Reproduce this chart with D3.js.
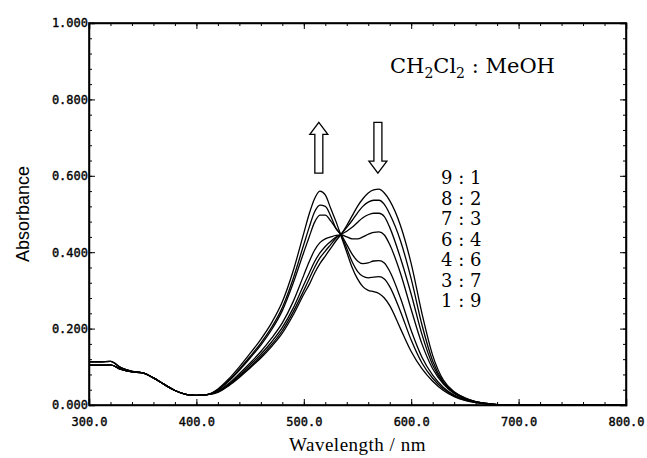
<!DOCTYPE html>
<html>
<head>
<meta charset="utf-8">
<script src="https://cdn.jsdelivr.net/npm/d3@7"></script>
<style>
  body { margin: 0; background: #fff; }
  .axis text { font-family: "DejaVu Sans Mono", monospace; font-size: 12px; fill: #000; stroke: #000; stroke-width: 0.35px; }
  .axis path, .axis line { stroke: #000; }
</style>
</head>
<body>
<svg class="chart"></svg>
<script>
// wavelengths (nm) shared by all spectra
var wavelengths = [300,310,320,330,340,350,360,370,380,390,400,410,
    420,430,440,450,460,470,480,490,500,
    505,510,515,520,525,530,535,540,545,550,555,560,565,570,575,580,
    590,600,610,620,630,640,650,660,670,680,690,700,750,800];

var ratios = ["9 : 1", "8 : 2", "7 : 3", "6 : 4", "4 : 6", "3 : 7", "1 : 9"];

var abs91 = [.104,.104,.105,.093,.087,.084,.071,.054,.038,.028,.025,.027,
    .033,.05,.072,.097,.123,.153,.188,.235,.29,
    .315,.345,.37,.39,.41,.43,.448,.47,.495,.52,.54,.555,.563,.565,.555,.535,
    .47,.37,.24,.13,.065,.035,.019,.009,.004,.001,0,0,0,0];
var abs82 = [.104,.104,.105,.093,.087,.084,.071,.054,.038,.028,.025,.027,
    .034,.052,.075,.10,.127,.158,.195,.243,.30,
    .33,.36,.385,.403,.42,.437,.448,.465,.483,.503,.52,.531,.536,.536,.525,.50,
    .43,.33,.21,.115,.06,.033,.018,.009,.004,.001,0,0,0,0];
var abs73 = [.104,.104,.105,.093,.087,.084,.071,.054,.038,.028,.025,.027,
    .035,.054,.078,.105,.133,.165,.203,.253,.315,
    .345,.375,.398,.415,.428,.44,.447,.455,.465,.478,.49,.498,.502,.502,.493,.465,
    .385,.29,.185,.105,.058,.032,.017,.008,.004,.001,0,0,0,0];
var abs64 = [.104,.104,.105,.093,.087,.084,.071,.054,.038,.028,.025,.027,
    .036,.056,.082,.11,.14,.175,.215,.27,.34,
    .375,.405,.425,.435,.44,.444,.445,.44,.435,.435,.44,.447,.452,.453,.445,.42,
    .345,.25,.16,.095,.055,.03,.016,.008,.004,.001,0,0,0,0];
var abs46 = [.113,.113,.114,.097,.088,.084,.071,.054,.038,.028,.025,.027,
    .039,.062,.091,.123,.157,.197,.247,.318,.40,
    .44,.478,.497,.497,.482,.462,.445,.42,.395,.377,.37,.372,.377,.378,.372,.35,
    .28,.195,.125,.078,.046,.026,.014,.007,.003,.001,0,0,0,0];
var abs37 = [.113,.113,.114,.097,.088,.084,.071,.054,.038,.028,.025,.027,
    .04,.064,.094,.127,.162,.203,.255,.33,.42,
    .465,.505,.523,.52,.495,.462,.443,.41,.375,.35,.337,.333,.335,.336,.33,.31,
    .245,.17,.11,.07,.042,.024,.013,.007,.003,.001,0,0,0,0];
var abs19 = [.113,.113,.114,.097,.088,.084,.071,.054,.038,.028,.025,.027,
    .042,.068,.10,.135,.172,.215,.27,.35,.45,
    .50,.54,.56,.55,.515,.48,.44,.40,.36,.33,.31,.30,.297,.292,.28,.26,
    .20,.14,.095,.062,.038,.022,.012,.006,.003,.001,0,0,0,0];

var series = [abs91, abs82, abs73, abs64, abs46, abs37, abs19];

var xTicks = [300, 400, 500, 600, 700, 800];
var yTicks = [0, 0.2, 0.4, 0.6, 0.8, 1.0];
var xMinor = d3.range(300, 801, 20);
var yMinor = d3.range(0, 1.0001, 0.04);

// arrows: [wavelength, direction]
var arrows = [[514, "up"], [569, "down"]];

var W = 647, H = 458;
var margin = {top: 23, right: 21, bottom: 53, left: 89},
    width = W - margin.left - margin.right,
    height = H - margin.top - margin.bottom;

var x = d3.scaleLinear().domain([300, 800]).range([0, width]);
var y = d3.scaleLinear().domain([0, 1]).range([height, 0]);

var svg = d3.select(".chart")
    .attr("width", W)
    .attr("height", H);

var chart = svg.append("g")
    .attr("transform", "translate(" + margin.left + "," + margin.top + ")");

// minor ticks on all four sides
function minor(axis, tr) {
    chart.append("g")
        .attr("class", "axis minor")
        .attr("transform", tr)
        .call(axis.tickSize(-3).tickFormat(""))
        .select(".domain").remove();
}
minor(d3.axisBottom(x).tickValues(xMinor), "translate(0," + height + ")");
minor(d3.axisTop(x).tickValues(xMinor), "translate(0,0)");
minor(d3.axisLeft(y).tickValues(yMinor), "translate(0,0)");
minor(d3.axisRight(y).tickValues(yMinor), "translate(" + width + ",0)");

// major axes
chart.append("g")
    .attr("class", "x axis")
    .attr("transform", "translate(0," + height + ")")
    .call(d3.axisBottom(x).tickValues(xTicks).tickSize(-6).tickPadding(12)
        .tickFormat(d3.format(".1f")));

chart.append("g")
    .attr("class", "y axis")
    .call(d3.axisLeft(y).tickValues(yTicks).tickSize(-6).tickPadding(1)
        .tickFormat(d3.format(".3f")));

chart.append("g")
    .attr("class", "axis")
    .call(d3.axisTop(x).tickValues(xTicks).tickSize(-6).tickFormat(""));
chart.append("g")
    .attr("class", "axis")
    .attr("transform", "translate(" + width + ",0)")
    .call(d3.axisRight(y).tickValues(yTicks).tickSize(-6).tickFormat(""));

chart.selectAll(".domain").attr("stroke-width", 1.5);

// frame
chart.append("rect")
    .attr("width", width)
    .attr("height", height)
    .attr("fill", "none")
    .attr("stroke", "#000")
    .attr("stroke-width", 1.6);

// spectra
var line = d3.line()
    .x(function(d, i) { return x(wavelengths[i]); })
    .y(function(d) { return y(d); })
    .curve(d3.curveMonotoneX);

chart.selectAll(".spectrum")
        .data(series)
    .enter().append("path")
        .attr("class", "spectrum")
        .attr("fill", "none")
        .attr("stroke", "#000")
        .attr("stroke-width", 1.3)
        .attr("d", line);

// arrows
var shaftW = 8, headW = 18, headH = 12, arrowTop = 0.74, arrowBot = 0.607;
arrows.forEach(function(a) {
    var cx = x(a[0]), y0 = y(arrowTop), y1 = y(arrowBot), p;
    if (a[1] == "up") {
        p = [[cx, y0], [cx + headW / 2, y0 + headH], [cx + shaftW / 2, y0 + headH],
             [cx + shaftW / 2, y1], [cx - shaftW / 2, y1], [cx - shaftW / 2, y0 + headH],
             [cx - headW / 2, y0 + headH]];
    } else {
        p = [[cx, y1], [cx + headW / 2, y1 - headH], [cx + shaftW / 2, y1 - headH],
             [cx + shaftW / 2, y0], [cx - shaftW / 2, y0], [cx - shaftW / 2, y1 - headH],
             [cx - headW / 2, y1 - headH]];
    }
    chart.append("path")
        .attr("d", "M" + p.join("L") + "Z")
        .attr("fill", "#fff")
        .attr("stroke", "#000")
        .attr("stroke-width", 1.3);
});

// solvent title
var solv = chart.append("text")
    .attr("x", 301)
    .attr("y", 50)
    .style("font-family", "'DejaVu Serif', serif")
    .style("font-size", "21px");
solv.append("tspan").text("CH");
solv.append("tspan").attr("dy", 5).style("font-size", "14px").text("2");
solv.append("tspan").attr("dy", -5).text("Cl");
solv.append("tspan").attr("dy", 5).style("font-size", "14px").text("2");
solv.append("tspan").attr("dy", -5).text(" : MeOH");

// ratio legend
chart.selectAll(".ratio")
        .data(ratios)
    .enter().append("text")
        .attr("class", "ratio")
        .attr("x", 352)
        .attr("y", function(d, i) { return 155 + i * 20.5; })
        .attr("dy", "0.35em")
        .style("font-family", "'DejaVu Serif', serif")
        .style("font-size", "18px")
        .text(function(d) { return d; });

// axis titles
svg.append("text")
    .attr("transform", "translate(29," + (margin.top + height / 2) + ") rotate(-90)")
    .style("text-anchor", "middle")
    .style("font-family", "'Liberation Sans', sans-serif")
    .style("font-size", "18px")
    .text("Absorbance");

svg.append("text")
    .attr("x", margin.left + width / 2)
    .attr("y", 451)
    .style("text-anchor", "middle")
    .style("font-family", "'Liberation Serif', serif")
    .style("font-size", "19px")
    .style("letter-spacing", "0.5px")
    .text("Wavelength / nm");
</script>
</body>
</html>
